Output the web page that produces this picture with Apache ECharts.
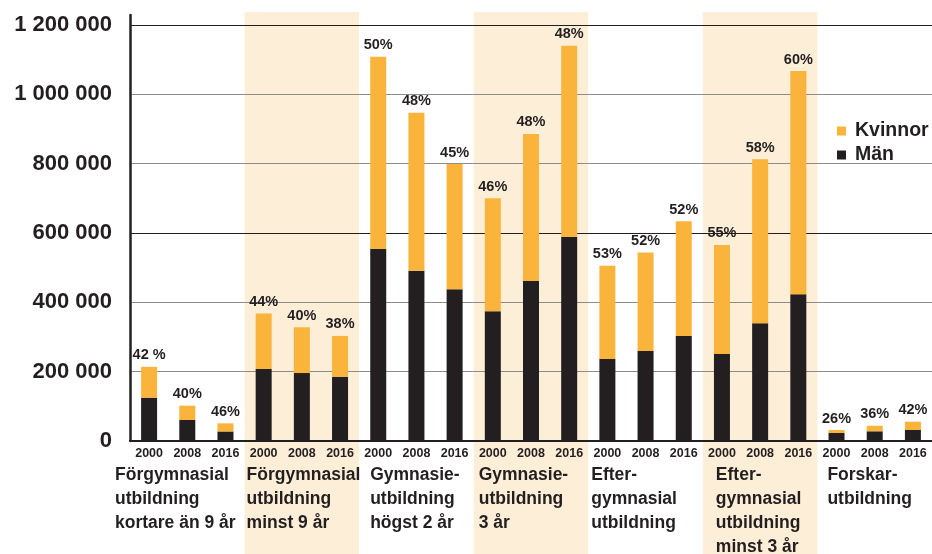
<!DOCTYPE html>
<html>
<head>
<meta charset="utf-8">
<script src="https://cdn.jsdelivr.net/npm/echarts@6/dist/echarts.min.js"></script>
<style>
html,body{margin:0;padding:0;background:#fff;}
#c{width:932px;height:554px;}
</style>
</head>
<body>
<div id="c"></div>
<script>
// ---- data ----
const groups = [
  'Förgymnasial\nutbildning\nkortare än 9 år',
  'Förgymnasial\nutbildning\nminst 9 år',
  'Gymnasie-\nutbildning\nhögst 2 år',
  'Gymnasie-\nutbildning\n3 år',
  'Efter-\ngymnasial\nutbildning',
  'Efter-\ngymnasial\nutbildning\nminst 3 år',
  'Forskar-\nutbildning'
];
const years = ['2000', '2008', '2016'];
const man = [125000, 60600, 27500, 207700, 196000, 185600, 553800, 491000, 437500,
  374000, 461500, 589400, 236500, 259600, 303000, 251000, 339500, 423000, 23000, 28000, 31700];
const kvinnor = [89000, 41400, 23500, 160300, 132000, 117400, 554800, 456000, 361500,
  326000, 424100, 550600, 269300, 284400, 330600, 314400, 473000, 644000, 8700, 16000, 24000];
const pctLabels = ['42 %', '40%', '46%', '44%', '40%', '38%', '50%', '48%', '45%', '46%', '48%',
  '48%', '53%', '52%', '52%', '55%', '58%', '60%', '26%', '36%', '42%'];
const shadedGroups = [1, 3, 5];
const yTicks = { min: 0, max: 1200000, interval: 200000 };

// ---- layout / style ----
const labelShift = [-15, 2, 11, 5, 3, 13, 10];
const INK = '#231f20';
const ORANGE = '#fab33b';
const BAND = '#fdeed7';
const FONT = '"Liberation Sans", Arial, sans-serif';

const categories = [];
groups.forEach((g, gi) => years.forEach(y => categories.push(gi + '|' + y)));

const chart = echarts.init(document.getElementById('c'), null, { renderer: 'canvas' });
chart.setOption({
  backgroundColor: '#fff',
  animation: false,
  grid: [
    { left: 130, right: 0, top: 25, bottom: 113 },
    { left: 130, right: 0, top: 15, bottom: 113 }
  ],
  legend: {
    data: ['Kvinnor', 'Män'],
    orient: 'vertical',
    left: 832,
    top: 114,
    icon: 'rect',
    itemWidth: 9,
    itemHeight: 9,
    itemGap: 0,
    textStyle: { fontFamily: FONT, fontWeight: 'bold', fontSize: 19.5, color: INK, lineHeight: 24, padding: [0, 0, 0, 4] }
  },
  xAxis: [
    {
      type: 'category', gridIndex: 0, data: categories,
      axisLine: { lineStyle: { color: INK, width: 2 } },
      axisTick: { show: false },
      axisLabel: {
        formatter: v => v.split('|')[1],
        fontFamily: FONT, fontWeight: 'bold', fontSize: 12.5, color: INK, margin: 6
      }
    },
    { type: 'value', gridIndex: 1, show: false, min: 0, max: 1 }
  ],
  yAxis: [
    {
      type: 'value', gridIndex: 0,
      min: yTicks.min, max: yTicks.max, interval: yTicks.interval,
      axisLine: { show: false },
      axisTick: { show: false },
      splitLine: { lineStyle: { color: [INK, '#8c8c8c', '#8c8c8c'], width: 1.2 } },
      axisLabel: {
        formatter: v => String(v).replace(/\B(?=(\d{3})+(?!\d))/g, ' '),
        fontFamily: FONT, fontWeight: 'bold', fontSize: 22, color: INK, margin: 18,
        padding: [0, 0, 7, 0]
      }
    },
    {
      type: 'value', gridIndex: 1, min: 0, max: 1,
      axisLine: { show: true, lineStyle: { color: INK, width: 2.5 } },
      axisTick: { show: false }, axisLabel: { show: false }, splitLine: { show: false }
    }
  ],
  series: [
    {
      type: 'custom', name: 'band', z: -1, silent: true,
      xAxisIndex: 0, yAxisIndex: 0,
      data: shadedGroups.map(g => [g * 3, 0]),
      renderItem: (params, api) => {
        const c = api.coord([api.value(0), 0]);
        const bw = api.size([1, 0])[0];
        return {
          type: 'rect',
          shape: { x: c[0] - bw / 2, y: 12, width: bw * 3, height: api.getHeight() - 12 },
          style: { fill: BAND }
        };
      }
    },
    {
      type: 'custom', name: 'groupLabels', z: 3, silent: true,
      xAxisIndex: 0, yAxisIndex: 0,
      data: groups.map((g, i) => [i * 3, 0, i]),
      renderItem: (params, api) => {
        const i = api.value(2);
        const c = api.coord([api.value(0), 0]);
        const bw = api.size([1, 0])[0];
        return {
          type: 'text',
          x: c[0] - bw / 2 + labelShift[i],
          y: 463,
          style: {
            text: groups[i],
            fill: INK,
            font: 'bold 17.5px ' + FONT,
            lineHeight: 24,
            align: 'left',
            verticalAlign: 'top'
          }
        };
      }
    },
    {
      name: 'Män', type: 'bar', stack: 'tot', barWidth: 16,
      itemStyle: { color: INK },
      data: man
    },
    {
      name: 'Kvinnor', type: 'bar', stack: 'tot', barWidth: 16,
      itemStyle: { color: ORANGE },
      data: kvinnor,
      label: {
        show: true, position: 'top', distance: 4,
        formatter: p => pctLabels[p.dataIndex],
        fontFamily: FONT, fontWeight: 'bold', fontSize: 14.5, color: INK
      }
    }
  ]
});
</script>
</body>
</html>
